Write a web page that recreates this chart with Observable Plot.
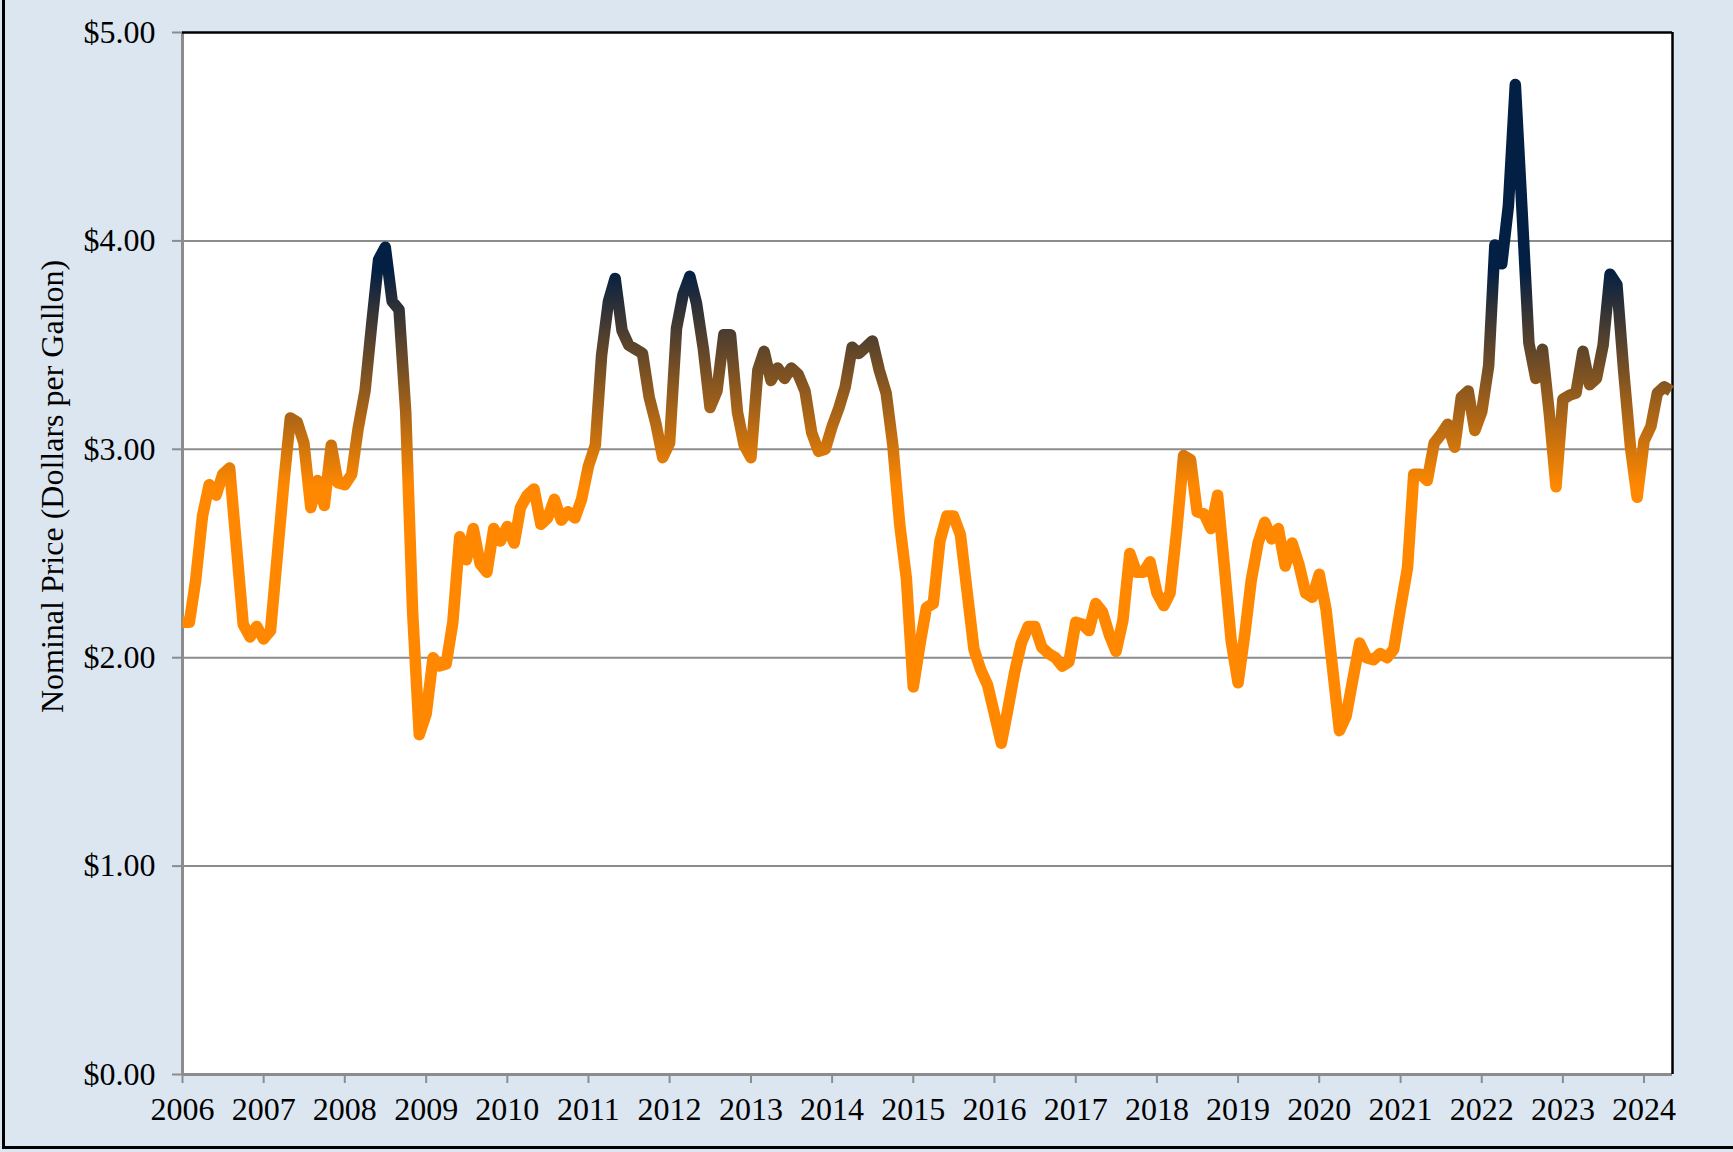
<!DOCTYPE html>
<html>
<head>
<meta charset="utf-8">
<script src="https://cdn.jsdelivr.net/npm/d3@7"></script>
<script src="https://cdn.jsdelivr.net/npm/@observablehq/plot@0.6"></script>
<style>
  html, body { margin: 0; padding: 0; background: #ffffff; }
  #chart { position: relative; width: 1733px; height: 1152px; background: #DCE6F1; overflow: hidden; }
  #chart svg { display: block; position: absolute; left: 0; top: 0; }
  .border-left { position: absolute; left: 2px; top: 0; width: 3px; height: 1149px; background: #000; }
  .border-bottom { position: absolute; left: 2px; top: 1146px; width: 1731px; height: 3px; background: #000; }
</style>
</head>
<body>
<div id="chart"></div>
<script>
// ---- Data (monthly nominal price, $/gal), Jan 2006 .. May 2024 ----
const firstYear = 2006;
const monthlyPrice = [
  // 2006
  2.17, 2.17, 2.37, 2.68, 2.83, 2.78, 2.88, 2.91, 2.53, 2.16, 2.10, 2.15,
  // 2007
  2.09, 2.13, 2.46, 2.83, 3.15, 3.13, 3.03, 2.72, 2.85, 2.73, 3.02, 2.84,
  // 2008
  2.83, 2.88, 3.10, 3.28, 3.60, 3.91, 3.97, 3.71, 3.67, 3.18, 2.22, 1.63,
  // 2009
  1.73, 2.00, 1.96, 1.97, 2.17, 2.58, 2.47, 2.62, 2.45, 2.41, 2.62, 2.56,
  // 2010
  2.63, 2.55, 2.72, 2.78, 2.81, 2.64, 2.67, 2.76, 2.66, 2.70, 2.67, 2.76,
  // 2011
  2.92, 3.02, 3.45, 3.71, 3.82, 3.57, 3.50, 3.48, 3.46, 3.25, 3.12, 2.96,
  // 2012
  3.03, 3.58, 3.74, 3.83, 3.70, 3.48, 3.20, 3.28, 3.55, 3.55, 3.18, 3.02,
  // 2013
  2.96, 3.38, 3.47, 3.33, 3.39, 3.34, 3.39, 3.36, 3.28, 3.08, 2.99, 3.00,
  // 2014
  3.11, 3.20, 3.30, 3.49, 3.46, 3.49, 3.52, 3.38, 3.27, 3.02, 2.64, 2.38,
  // 2015
  1.86, 2.07, 2.24, 2.26, 2.56, 2.68, 2.68, 2.59, 2.31, 2.04, 1.94, 1.87,
  // 2016
  1.73, 1.59, 1.75, 1.93, 2.07, 2.15, 2.15, 2.05, 2.02, 2.00, 1.96, 1.98,
  // 2017
  2.17, 2.16, 2.13, 2.26, 2.22, 2.11, 2.03, 2.18, 2.50, 2.41, 2.41, 2.46,
  // 2018
  2.31, 2.25, 2.31, 2.62, 2.97, 2.95, 2.70, 2.69, 2.62, 2.78, 2.43, 2.08,
  // 2019
  1.88, 2.12, 2.37, 2.55, 2.65, 2.57, 2.62, 2.44, 2.55, 2.45, 2.31, 2.29,
  // 2020
  2.40, 2.23, 1.95, 1.65, 1.72, 1.90, 2.07, 2.00, 1.99, 2.02, 2.00, 2.04,
  // 2021
  2.24, 2.43, 2.88, 2.88, 2.85, 3.03, 3.07, 3.12, 3.01, 3.25, 3.28, 3.09,
  // 2022
  3.18, 3.40, 3.98, 3.89, 4.17, 4.75, 4.15, 3.51, 3.34, 3.48, 3.17, 2.82,
  // 2023
  3.24, 3.26, 3.27, 3.47, 3.31, 3.34, 3.50, 3.84, 3.79, 3.38, 3.01, 2.77,
  // 2024
  3.04, 3.11, 3.27, 3.30, 3.28
];
const yearTicks = [2006, 2007, 2008, 2009, 2010, 2011, 2012, 2013, 2014, 2015,
                   2016, 2017, 2018, 2019, 2020, 2021, 2022, 2023, 2024];
const priceTicks = [0, 1, 2, 3, 4, 5];
const gridValues = [1, 2, 3, 4];
const yTitle = "Nominal Price (Dollars per Gallon)";
const gradientLow = 2.82;   // price where the line is fully orange
const gradientHigh = 3.86;  // price where the line is fully navy

// ---- Build table ----
const data = monthlyPrice.map((p, i) => ({ date: new Date(Date.UTC(firstYear, i, 1)), price: p }));
const xDomain = [new Date(Date.UTC(2006, 0, 1)), new Date(Date.UTC(2024, 4, 8))];
const tickDates = yearTicks.map(y => new Date(Date.UTC(y, 0, 1)));

const serif = "'Liberation Serif', 'Times New Roman', Times, serif";
const gray = "#8C8C8C";

const plot = Plot.plot({
  width: 1733,
  height: 1152,
  marginLeft: 182,
  marginRight: 61,
  marginTop: 32,
  marginBottom: 78,
  style: { background: "transparent", fontFamily: serif, fontSize: "32px", color: "black", overflow: "visible" },
  x: { type: "utc", domain: xDomain },
  y: { domain: [0, 5] },
  marks: [
    Plot.frame({ fill: "white", stroke: "none" }),
    Plot.ruleY(gridValues, { stroke: gray, strokeWidth: 2 }),
    Plot.ruleY([0], { stroke: gray, strokeWidth: 3 }),
    Plot.ruleX([xDomain[0]], { stroke: gray, strokeWidth: 3 }),
    Plot.ruleY([5], { stroke: "black", strokeWidth: 2.5 }),
    Plot.ruleX([xDomain[1]], { stroke: "black", strokeWidth: 2.5 }),
    Plot.axisY({
      ticks: priceTicks, tickFormat: d => "$" + d.toFixed(2),
      tickSize: 10, tickPadding: 17, stroke: gray, strokeWidth: 2, fill: "black",
      fontSize: 32, label: null
    }),
    Plot.axisX({
      ticks: tickDates, tickFormat: d => String(d.getUTCFullYear()),
      tickSize: 9, tickPadding: 14, stroke: gray, strokeWidth: 2, fill: "black",
      fontSize: 32, label: null
    }),
    Plot.line(data, {
      x: "date", y: "price",
      stroke: "url(#priceGradient)", strokeWidth: 11.5,
      strokeLinejoin: "round", strokeLinecap: "butt"
    }),
    Plot.text([yTitle], {
      frameAnchor: "left", textAnchor: "middle", rotate: -90, dx: -130, dy: -67,
      fontSize: 32, fill: "black", fontFamily: serif
    })
  ]
});

// vertical gradient positioned with the y scale
const ys = plot.scale("y");
const defs = d3.select(plot).insert("defs", ":first-child");
const grad = defs.append("linearGradient")
  .attr("id", "priceGradient")
  .attr("gradientUnits", "userSpaceOnUse")
  .attr("x1", 0).attr("x2", 0)
  .attr("y1", ys.apply(gradientLow))
  .attr("y2", ys.apply(gradientHigh));
grad.append("stop").attr("offset", 0).attr("stop-color", "#FF8800");
grad.append("stop").attr("offset", 1).attr("stop-color", "#031F43");

const chart = document.getElementById("chart");
chart.appendChild(plot);
const bl = document.createElement("div"); bl.className = "border-left"; chart.appendChild(bl);
const bb = document.createElement("div"); bb.className = "border-bottom"; chart.appendChild(bb);
</script>
</body>
</html>
